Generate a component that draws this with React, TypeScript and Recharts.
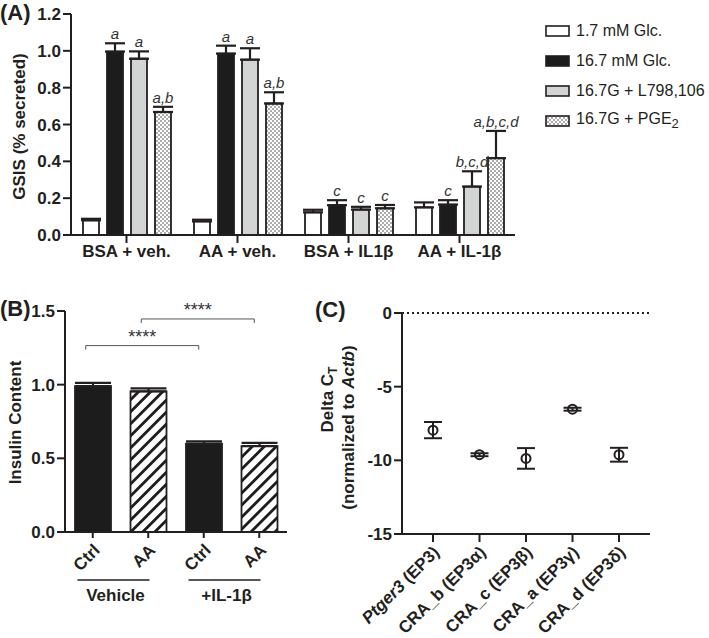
import React from 'react';
import {
  BarChart,
  Bar,
  XAxis,
  YAxis,
  ErrorBar,
  LabelList,
  Legend,
  ReferenceLine,
  ComposedChart,
  Scatter,
  Cell,
} from 'recharts';

const FONT = '"Liberation Sans", Arial, sans-serif';
const INK = '#231f20';

// ---- (A) GSIS ----
const treatmentsA = ['BSA + veh.', 'AA + veh.', 'BSA + IL1β', 'AA + IL-1β'];
const glc17 = [0.08, 0.074, 0.123, 0.15];
const glc17Err = [0.008, 0.009, 0.014, 0.027];
const glc167 = [0.996, 0.985, 0.162, 0.165];
const glc167Err = [0.045, 0.043, 0.027, 0.024];
const l798 = [0.957, 0.952, 0.138, 0.263];
const l798Err = [0.04, 0.062, 0.015, 0.083];
const pge2 = [0.668, 0.714, 0.145, 0.417];
const pge2Err = [0.028, 0.061, 0.018, 0.148];
const sigGlc167 = ['a', 'a', 'c', 'c'];
const sigL798 = ['a', 'a', 'c', 'b,c,d'];
const sigPge2 = ['a,b', 'a,b', 'c', 'a,b,c,d'];
const yTicksA = [0, 0.2, 0.4, 0.6, 0.8, 1.0, 1.2];

// ---- (B) insulin content ----
const idsB = ['veh-ctrl', 'veh-aa', 'il-ctrl', 'il-aa'];
const conditionsB = ['Ctrl', 'AA', 'Ctrl', 'AA'];
const treatmentsB = ['Vehicle', 'Vehicle', '+IL-1β', '+IL-1β'];
const insulin = [0.99, 0.955, 0.6, 0.583];
const insulinErr = [0.022, 0.02, 0.016, 0.022];
const yTicksB = [0, 0.5, 1.0, 1.5];

// ---- (C) delta CT ----
const genesC = ['Ptger3 (EP3)', 'CRA_b (EP3α)', 'CRA_c (EP3β)', 'CRA_a (EP3γ)', 'CRA_d (EP3δ)'];
const geneNames = ['Ptger3', 'CRA_b', 'CRA_c', 'CRA_a', 'CRA_d'];
const isoforms = ['EP3', 'EP3α', 'EP3β', 'EP3γ', 'EP3δ'];
const deltaCt = [-7.95, -9.62, -9.87, -6.53, -9.62];
const deltaCtErr = [0.55, 0.1, 0.7, 0.1, 0.47];
const yTicksC = [-15, -10, -5, 0];

const seriesA = [
  { key: 'glc17', name: '1.7 mM Glc.', sub: '', fill: '#ffffff', vals: glc17, errs: glc17Err, sig: ['', '', '', ''] },
  { key: 'glc167', name: '16.7 mM Glc.', sub: '', fill: '#1c1c1c', vals: glc167, errs: glc167Err, sig: sigGlc167 },
  { key: 'l798', name: '16.7G + L798,106', sub: '', fill: '#d3d4d4', vals: l798, errs: l798Err, sig: sigL798 },
  { key: 'pge2', name: '16.7G + PGE', sub: '2', fill: 'url(#dotsA)', vals: pge2, errs: pge2Err, sig: sigPge2 },
];

const dataA = treatmentsA.map((t, i) => {
  const row: any = { treatment: t };
  seriesA.forEach((s) => {
    row[s.key] = s.vals[i];
    row[s.key + 'Err'] = [0, s.errs[i]];
    row[s.key + 'Sig'] = s.sig[i];
  });
  return row;
});

const dataB = idsB.map((id, i) => ({
  id,
  treatment: treatmentsB[i],
  insulin: insulin[i],
  insulinErr: [0, insulinErr[i]],
}));

const dataC = genesC.map((g, i) => ({ gene: g, dct: deltaCt[i], dctErr: deltaCtErr[i] }));

const tickStyle = { fontSize: 17, fontWeight: 700, fill: INK, fontFamily: FONT };
const axisLine = { stroke: INK, strokeWidth: 2 };

// rotated axis title, lines placed relative to the axis box centre
const yTitle = (lines: { dx: number; dy: number; body: React.ReactNode }[]) => (props: any) => {
  const vb = props.viewBox || {};
  const cx = vb.x + vb.width / 2;
  const cy = vb.y + vb.height / 2;
  return (
    <g>
      {lines.map((l, i) => {
        const x = cx + l.dx;
        const y = cy + l.dy;
        return (
          <text key={i} x={x} y={y} dy="0.35em" transform={`rotate(-90 ${x} ${y})`} textAnchor="middle"
            fontSize={17} fontWeight={700} fill={INK} fontFamily={FONT}>
            {l.body}
          </text>
        );
      })}
    </g>
  );
};

const sigLabel = (key: string) => (props: any) => {
  const vb = props.viewBox || props;
  const row = dataA[props.index];
  if (!row || !props.value) return null;
  const x = Number(vb.x), y = Number(vb.y), w = Number(vb.width), h = Number(vb.height);
  const perUnit = h / row[key];
  const top = y - row[key + 'Err'][1] * perUnit;
  return (
    <text x={x + w / 2} y={top - 4} textAnchor="middle" fontStyle="italic" fontSize={15} fill="#333" fontFamily={FONT}>
      {props.value}
    </text>
  );
};

const legendA = (props: any) => (
  <div style={{ fontFamily: FONT, color: INK, fontSize: 16 }}>
    {(props.payload || []).map((e: any) => {
      const s = seriesA.find((x) => x.key === e.dataKey);
      return (
        <div key={e.dataKey} style={{ display: 'flex', alignItems: 'center', height: 30, whiteSpace: 'nowrap' }}>
          <svg width={27} height={13} style={{ marginRight: 4 }}>
            <rect x={1} y={1} width={23} height={10} fill={s ? s.fill : e.color} stroke={INK} strokeWidth={1.6} />
          </svg>
          <span>
            {s ? s.name : e.value}
            {s && s.sub ? <sub style={{ fontSize: 13 }}>{s.sub}</sub> : null}
          </span>
        </div>
      );
    })}
  </div>
);

function PanelA() {
  return (
    <div style={{ position: 'absolute', left: 0, top: 0 }}>
      <BarChart width={709} height={280} data={dataA} margin={{ top: 14, right: 194, bottom: 15, left: 11 }}
        barSize={16} barGap={8} style={{ fontFamily: FONT }}>
        <defs>
          <pattern id="dotsA" width={4} height={4} patternUnits="userSpaceOnUse">
            <rect width={4} height={4} fill="#fff" />
            <circle cx={1} cy={1} r={0.75} fill="#333" />
            <circle cx={3} cy={3} r={0.75} fill="#333" />
          </pattern>
        </defs>
        <XAxis dataKey="treatment" height={30} tick={tickStyle} tickSize={8} axisLine={axisLine}
          tickLine={axisLine} interval={0} />
        <YAxis width={60} domain={[0, 1.2]} ticks={yTicksA} tickFormatter={(v) => v.toFixed(1)} tick={tickStyle}
          tickSize={8} axisLine={axisLine} tickLine={axisLine}
          label={{ content: yTitle([{ dx: -22, dy: 2, body: 'GSIS (% secreted)' }]) }} />
        <Legend layout="vertical" align="center" verticalAlign="middle" content={legendA}
          wrapperStyle={{ left: 545, top: 16, width: 164 }} />
        {seriesA.map((s) => (
          <Bar key={s.key} dataKey={s.key} name={s.name} fill={s.fill} stroke={INK} strokeWidth={1.8}
            isAnimationActive={false}>
            <ErrorBar dataKey={s.key + 'Err'} direction="y" width={10} stroke={INK} strokeWidth={2.2}
              isAnimationActive={false} />
            <LabelList dataKey={s.key + 'Sig'} content={sigLabel(s.key)} />
          </Bar>
        ))}
      </BarChart>
    </div>
  );
}

const CondTick = (props: any) => {
  const { x, y, payload } = props;
  const i = idsB.indexOf(payload.value);
  const ax = x + 4;
  const ay = y + 7;
  return (
    <text x={ax} y={ay} dy="0.35em" transform={`rotate(-45 ${ax} ${ay})`} textAnchor="end" {...tickStyle}>
      {conditionsB[i]}
    </text>
  );
};

const TreatTick = (props: any) => {
  const { x, y, payload } = props;
  return (
    <g>
      <line x1={x - 43} x2={x + 29} y1={y + 2} y2={y + 2} stroke={INK} strokeWidth={1.5} />
      <text x={x - 5} y={y + 23} textAnchor="middle" {...tickStyle}>
        {payload.value}
      </text>
    </g>
  );
};

const bracket = (props: any) => {
  const { x1, y1, x2 } = props;
  const a = x1 - 7;
  const b = x2 - 5;
  return (
    <g>
      <path d={`M${a},${y1 + 4}V${y1}H${b}V${y1 + 4}`} stroke="#555" strokeWidth={1} fill="none" />
      <text x={(a + b) / 2} y={y1 - 3} textAnchor="middle" fontSize={18} fill="#333" fontFamily={FONT}>
        ****
      </text>
    </g>
  );
};

function PanelB() {
  return (
    <div style={{ position: 'absolute', left: 0, top: 300 }}>
      <BarChart width={300} height={338} data={dataB} margin={{ top: 11, right: 13, bottom: 2, left: 5 }}
        barSize={36} style={{ fontFamily: FONT }}>
        <defs>
          <pattern id="hatchB" width={8.5} height={8.5} patternUnits="userSpaceOnUse" patternTransform="rotate(45)">
            <rect width={8.5} height={8.5} fill="#fff" />
            <rect x={0} y={0} width={2.8} height={8.5} fill="#1c1c1c" />
          </pattern>
        </defs>
        <XAxis dataKey="id" height={44} tick={<CondTick />} tickSize={6} axisLine={axisLine} tickLine={axisLine}
          interval={0} />
        <XAxis xAxisId="grp" dataKey="treatment" allowDuplicatedCategory={false} height={60} tick={<TreatTick />}
          tickSize={0} axisLine={false} tickLine={false} interval={0} />
        <YAxis width={60} domain={[0, 1.5]} ticks={yTicksB} tickFormatter={(v) => v.toFixed(1)} tick={tickStyle}
          tickSize={8} axisLine={axisLine} tickLine={axisLine}
          label={{ content: yTitle([{ dx: -20, dy: 1, body: 'Insulin Content' }]) }} />
        <Bar dataKey="insulin" stroke={INK} strokeWidth={1.8} isAnimationActive={false}>
          {dataB.map((d, i) => (
            <Cell key={d.id} fill={i % 2 === 0 ? '#1c1c1c' : 'url(#hatchB)'} />
          ))}
          <ErrorBar dataKey="insulinErr" direction="y" width={18} stroke={INK} strokeWidth={2.2}
            isAnimationActive={false} />
        </Bar>
        <ReferenceLine segment={[{ x: 'veh-ctrl', y: 1.265 }, { x: 'il-ctrl', y: 1.265 }]} shape={bracket} />
        <ReferenceLine segment={[{ x: 'veh-aa', y: 1.446 }, { x: 'il-aa', y: 1.446 }]} shape={bracket} />
      </BarChart>
    </div>
  );
}

const GeneTick = (props: any) => {
  const { x, y, payload } = props;
  const i = genesC.indexOf(payload.value);
  const ax = x + 3;
  const ay = y + 5;
  return (
    <text x={ax} y={ay} dy="0.35em" transform={`rotate(-45 ${ax} ${ay})`} textAnchor="end" {...tickStyle}>
      <tspan fontStyle={i === 0 ? 'italic' : 'normal'}>{geneNames[i]}</tspan> ({isoforms[i]})
    </text>
  );
};

const openCircle = (props: any) => (
  <circle cx={props.cx} cy={props.cy} r={4.5} fill="none" stroke={INK} strokeWidth={2} />
);

function PanelC() {
  return (
    <div style={{ position: 'absolute', left: 300, top: 300 }}>
      <ComposedChart width={409} height={338} data={dataC} margin={{ top: 13, right: 59, bottom: 4, left: 62 }}
        style={{ fontFamily: FONT }}>
        <XAxis dataKey="gene" type="category" scale="point" padding={{ left: 31, right: 31 }} height={100}
          tick={<GeneTick />} tickSize={8} axisLine={axisLine} tickLine={axisLine} interval={0} />
        <YAxis width={40} type="number" domain={[-15, 0]} ticks={yTicksC} tick={tickStyle} tickSize={8}
          axisLine={axisLine} tickLine={axisLine}
          label={{
            content: yTitle([
              {
                dx: -55,
                dy: -24,
                body: (
                  <>
                    Delta C<tspan dy={4} fontSize={12}>T</tspan>
                  </>
                ),
              },
              {
                dx: -34,
                dy: 4,
                body: (
                  <>
                    (normalized to <tspan fontStyle="italic">Actb</tspan>)
                  </>
                ),
              },
            ]),
          }} />
        <ReferenceLine y={0} stroke={INK} strokeWidth={2} strokeDasharray="2 3" />
        <Scatter dataKey="dct" shape={openCircle} isAnimationActive={false}>
          <ErrorBar dataKey="dctErr" direction="y" width={9} stroke={INK} strokeWidth={2} isAnimationActive={false} />
        </Scatter>
      </ComposedChart>
    </div>
  );
}

const panelTag = { position: 'absolute' as const, fontSize: 22, fontWeight: 700, lineHeight: '22px', color: INK };

export default function App() {
  return (
    <div style={{ position: 'absolute', left: 0, top: 0, width: 709, height: 638, background: '#fff', fontFamily: FONT, overflow: 'hidden' }}>
      <PanelA />
      <PanelB />
      <PanelC />
      <div style={{ ...panelTag, left: 0, top: 2 }}>(A)</div>
      <div style={{ ...panelTag, left: 0, top: 298 }}>(B)</div>
      <div style={{ ...panelTag, left: 315, top: 299 }}>(C)</div>
    </div>
  );
}
